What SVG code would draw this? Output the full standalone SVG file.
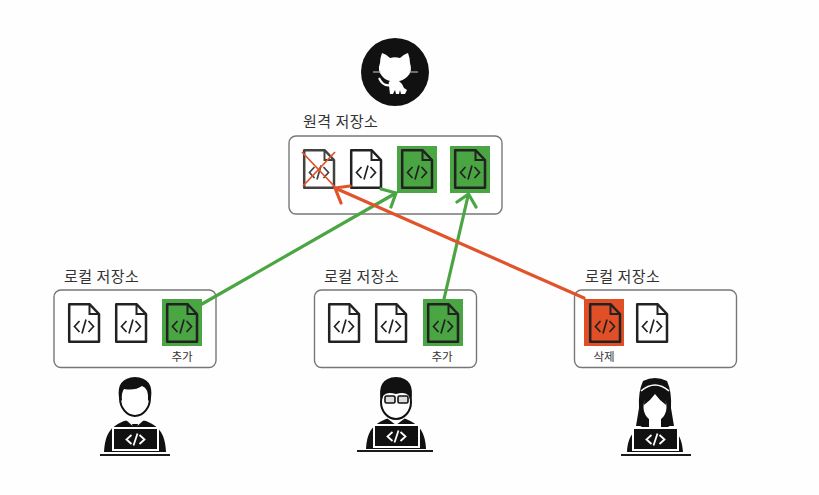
<svg xmlns="http://www.w3.org/2000/svg" xmlns:xlink="http://www.w3.org/1999/xlink" width="819" height="495" viewBox="0 0 819 495">
<style>
text{font-family:"Noto Sans CJK KR","Noto Sans",sans-serif;fill:#333}
.title{font-size:15px;letter-spacing:.5px}
.tag{font-size:11.5px;text-anchor:middle}
.box{fill:#fff;stroke:#777;stroke-width:1.4}
.base{fill:none;stroke:#1a1a1a;stroke-width:2}
.k{fill:#111}
.w{fill:#fff}
.code{fill:none;stroke:#fff;stroke-width:1.8}
.g{fill:#4aa543}
.r{fill:#e04f26}
.ln{fill:none;stroke-width:3.2;stroke-linecap:round;stroke-linejoin:round}
.gl{stroke:#4aa543}
.rl{stroke:#e0532b}
</style>
<defs>
<g id="doc">
<path d="M1.2 1.2H21.5L31 11V38.8H1.2Z" fill="var(--f,#fff)" stroke="#222" stroke-width="2.5" stroke-linejoin="round"/>
<path d="M21.5 1.2V11H31" fill="none" stroke="#222" stroke-width="2"/>
<path d="M11.5 18L6.5 23.5L11.5 29M20.5 18L25.5 23.5L20.5 29M18 16.500L14 30.500" fill="none" stroke="#222" stroke-width="1.7"/>
</g>
<g id="laptop">
<rect x="-2" y="-2" width="47" height="24" fill="#fff"/>
<rect x="0" y="0" width="43" height="20" class="k"/>
<path d="M17.500 6L12.500 10.500L17.500 15M25.500 6L30.500 10.500L25.500 15M23.500 4.500L19.500 16.500" class="code"/>
</g>
</defs>
<rect width="819" height="495" fill="#fefefe"/>

<g id="github">
<circle cx="395" cy="72" r="34" class="k"/>
<path d="M382 53Q386 54 390 58Q395 56.500 400 58Q404 54 408 53Q410 58 410 63Q413 72 407 77Q402 81 399 81Q403 84 404 88L407 90L405 94H401L400 90L399 94H396L395 90L393 94H390L389 86Q388 82 390 81Q385 80 382 76Q377 71 380 63Q380 58 382 53Z" class="w"/>
<path d="M379 78Q383 87 391 85" fill="none" stroke="#fff" stroke-width="2"/>
<path d="M373 72L381 72M409 72L418 72" fill="none" stroke="#ccc" stroke-width="1.200"/>
</g>

<g id="remote">
<rect x="289" y="136" width="213" height="78" rx="7" class="box"/>
<text x="303" y="127" class="title">원격 저장소</text>
<rect x="397" y="146" width="40" height="47" class="g"/>
<rect x="450" y="146" width="40" height="47" class="g"/>
<use xlink:href="#doc" x="303" y="149" opacity=".85"/>
<use xlink:href="#doc" x="350" y="149"/>
<use xlink:href="#doc" x="401" y="149" style="--f:#4aa543"/>
<use xlink:href="#doc" x="454" y="149" style="--f:#4aa543"/>
<path d="M302 152L335 187M335 152L303 186" fill="none" stroke="#e0532b" stroke-width="1.800"/>
</g>

<g id="local1">
<rect x="54" y="290" width="162" height="77.500" rx="7" class="box"/>
<text x="64" y="282" class="title">로컬 저장소</text>
<rect x="162" y="299" width="40" height="47" class="g"/>
<use xlink:href="#doc" x="68" y="303"/>
<use xlink:href="#doc" x="115" y="303"/>
<use xlink:href="#doc" x="166" y="303" style="--f:#4aa543"/>
<text x="182" y="361" class="tag">추가</text>
</g>

<g id="local2">
<rect x="314.500" y="290" width="162" height="77.500" rx="7" class="box"/>
<text x="324" y="282" class="title">로컬 저장소</text>
<rect x="423" y="299" width="40" height="47" class="g"/>
<use xlink:href="#doc" x="328" y="303"/>
<use xlink:href="#doc" x="375" y="303"/>
<use xlink:href="#doc" x="427" y="303" style="--f:#4aa543"/>
<text x="442" y="361" class="tag">추가</text>
</g>

<g id="local3">
<rect x="574.500" y="290" width="162" height="77.500" rx="7" class="box"/>
<text x="585" y="282" class="title">로컬 저장소</text>
<rect x="584" y="299" width="40" height="47" class="r"/>
<use xlink:href="#doc" x="589" y="303" style="--f:#e04f26"/>
<use xlink:href="#doc" x="636" y="303"/>
<text x="604" y="361" class="tag">삭제</text>
</g>

<g id="connectors">
<path d="M202 304L396 193M381 189L396 193L391 207" class="ln gl"/>
<path d="M444 299L468.500 194M457 202L468.500 194L476 207" class="ln gl"/>
<path d="M584 298L335 188M341 203L335 188L350 186" class="ln rl"/>
</g>

<g id="dev1">
<path d="M104 452C105 432 112 426 124 421L135 419L146 421C158 426 165 432 166 452Z" class="k"/>
<path d="M126 420L135 428L144 420L142 414H128Z" class="w"/>
<path d="M132 424H138L137 428L139 438H131L133 428Z" class="k"/>
<ellipse cx="135" cy="398" rx="14" ry="17" class="w"/>
<path d="M119 398Q116 378 135 377Q154 378 151 398L148 401Q149 388 142 386Q135 391 124 389Q121 393 122 401Z" class="k"/>
<ellipse cx="135" cy="398" rx="15" ry="18" fill="none" stroke="#111" stroke-width="2"/>
<use xlink:href="#laptop" x="114" y="429"/>
<path d="M100 455H170" class="base"/>
</g>

<g id="dev2">
<path d="M366 449C367 430 374 424 386 419L396 417L406 419C418 424 425 430 426 449Z" class="k"/>
<path d="M388 419L396 425L404 419V414H388Z" class="w"/>
<ellipse cx="396" cy="402" rx="14" ry="16" class="w"/>
<path d="M381 402Q376 378 396 377Q416 378 411 402L409 396Q405 391 396 394Q387 391 383 396Z" class="k"/>
<ellipse cx="396" cy="402" rx="15" ry="17" fill="none" stroke="#111" stroke-width="2"/>
<rect x="385" y="396" width="10" height="7" rx="1.500" fill="#ddd" stroke="#111" stroke-width="1.600"/>
<rect x="398" y="396" width="10" height="7" rx="1.500" fill="#ddd" stroke="#111" stroke-width="1.600"/>
<use xlink:href="#laptop" x="375" y="426"/>
<path d="M357 451H433" class="base"/>
</g>

<g id="dev3">
<path d="M643 381Q655 375 667 381Q672 392 671 408L674 426H636L639 408Q638 392 643 381Z" class="k"/>
<path d="M627 452C628 434 636 428 647 424L655 421L663 424C674 428 682 434 683 452Z" class="k"/>
<path d="M649 427L655 433L661 427V415H649Z" class="w"/>
<ellipse cx="655" cy="407" rx="11.500" ry="14" class="w"/>
<path d="M644 405Q650 401 655 394Q660 401 666 405Q666 389 655 389Q644 389 644 405Z" class="k"/>
<path d="M641 391Q655 379 669 391" fill="none" stroke="#fff" stroke-width="1.600"/>
<use xlink:href="#laptop" x="634" y="429"/>
<path d="M621 455H691" class="base"/>
</g>
</svg>
